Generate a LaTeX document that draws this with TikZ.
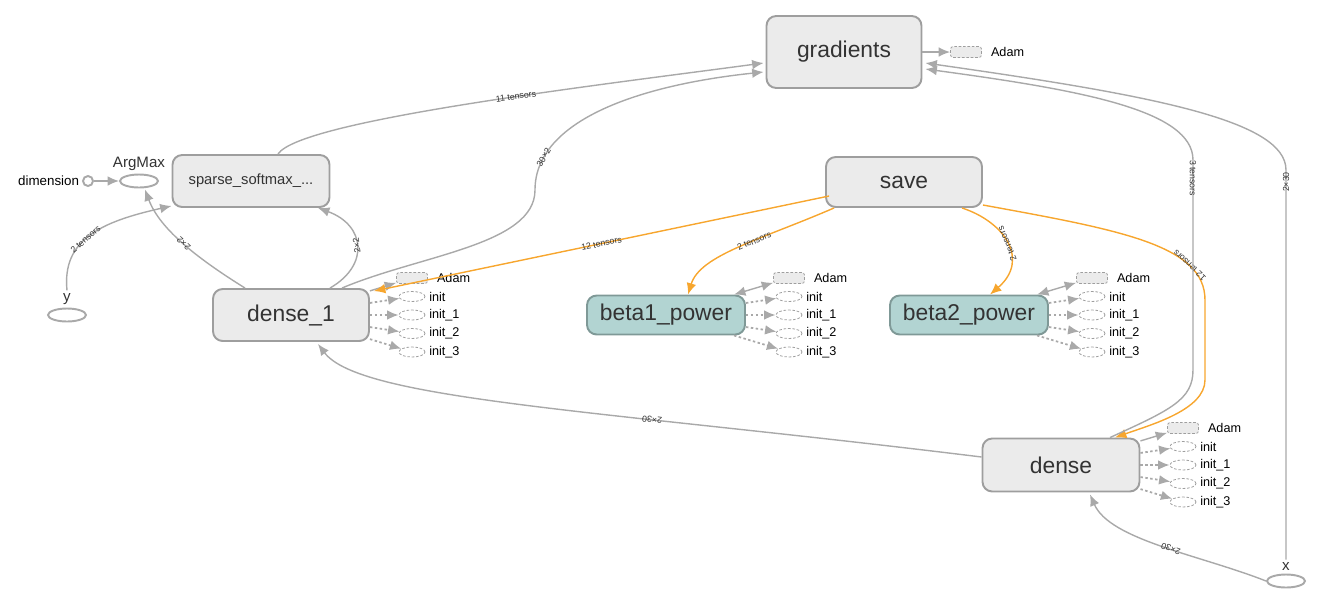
\documentclass[tikz,border=0pt]{standalone}
\usepackage{fontspec}
\setmainfont{Liberation Sans}
\usepackage{tikz}
\usetikzlibrary{
  shapes,
  arrows.meta,
  shapes.geometric,
  calc,
}
\definecolor{opfill}{HTML}{EBEBEB}
\definecolor{opborder}{HTML}{9E9E9E}
\definecolor{varfill}{HTML}{B2D4D2}
\definecolor{varborder}{HTML}{7F9997}
\definecolor{edgegray}{HTML}{A9A9A9}
\definecolor{saveorange}{HTML}{F7A62E}
\definecolor{txtgray}{HTML}{333333}
\tikzstyle{op} = [
rectangle,
draw=opborder,
line width=1.1pt,
fill=opfill,
rounded corners=5.5pt,
inner sep=0pt,
text=txtgray,
font=\fontsize{13}{15}\selectfont
]
\tikzstyle{varop} = [
op,
fill=varfill,
draw=varborder
]
\tikzstyle{leaf} = [
ellipse,
draw=edgegray,
line width=1.1pt,
minimum width=0.76cm,
minimum height=0.26cm,
inner sep=0pt
]
\tikzstyle{leaflabel} = [
font=\fontsize{8.6}{10}\selectfont,
text=txtgray,
label distance=0pt,
inner sep=1.5pt
]
\tikzstyle{auxadam} = [
rectangle,
draw=opborder,
dash pattern=on 1.5pt off 1pt,
line width=0.45pt,
fill=opfill,
rounded corners=1.5pt,
minimum width=0.62cm,
minimum height=0.22cm,
inner sep=0pt
]
\tikzstyle{auxinit} = [
ellipse,
draw=opborder,
dash pattern=on 1.5pt off 1pt,
line width=0.45pt,
minimum width=0.52cm,
minimum height=0.2cm,
inner sep=0pt
]
\tikzstyle{auxlabel} = [font=\fontsize{7.2}{8}\selectfont, inner sep=0.5pt, xshift=1.5pt]
\tikzstyle{arrow} = [draw=edgegray, line width=0.8pt, ->]
\tikzstyle{orangearrow} = [draw=saveorange, line width=0.8pt, ->]
\tikzstyle{ctrl} = [draw=edgegray, line width=1pt, dash pattern=on 1.4pt off 1.4pt, ->]
\tikzstyle{elabel} = [
font=\fontsize{5}{6}\selectfont,
text=txtgray,
sloped,
allow upside down,
inner sep=0pt
]

\begin{document}
\begin{tikzpicture}[x=0.02cm, y=-0.02cm, >={Latex[length=6.5pt, width=5.5pt]}]
  \useasboundingbox (0,0) rectangle (1320,610);
  % Place nodes
  \node [op, minimum width=3.1cm, minimum height=1.44cm] (gradients) at (844,52) {gradients};
  \node [op, minimum width=3.12cm, minimum height=1.0cm] (save) at (904,182) {save};
  \node [op, minimum width=3.14cm, minimum height=1.04cm, font=\fontsize{8.4}{10}\selectfont] (sparse) at (251,181) {sparse\_softmax\_...};
  \node [op, minimum width=3.12cm, minimum height=1.04cm] (dense1) at (291,315) {dense\_1};
  \node [varop, minimum width=3.16cm, minimum height=0.78cm] (beta1) at (666,315) {beta1\_power};
  \node [varop, minimum width=3.16cm, minimum height=0.78cm] (beta2) at (969,315) {beta2\_power};
  \node [op, minimum width=3.14cm, minimum height=1.06cm] (dense) at (1061,465) {dense};

  \node [leaf, label={[leaflabel]above:ArgMax}] (argmax) at (139,181) {};
  \node [circle, draw=edgegray, line width=1.1pt, minimum size=0.2cm, inner sep=0pt,
         label={[leaflabel, font=\fontsize{7.6}{9}\selectfont, text=black]left:dimension}] (dim) at (88,181) {};
  \node [leaf, label={[leaflabel, name=ylbl]above:y}] (y) at (67,315) {};
  \node [leaf, label={[leaflabel, name=xlbl]above:x}] (x) at (1286,581) {};
  \node [auxadam, label={[auxlabel, xshift=3pt]right:Adam}] (gradients-adam) at (966,52) {};

  % Auxiliary nodes
  \foreach \grp/\ax/\ay in {dense1/412/278, beta1/789/278, beta2/1092/278, dense/1183/428} {
    \node [auxadam, label={[auxlabel, xshift=3pt]right:Adam}] (\grp-adam) at (\ax,\ay) {};
    \foreach \i/\nm in {1/init, 2/init\_1, 3/init\_2, 4/init\_3} {
      \node [auxinit, label={[auxlabel]right:\nm}] (\grp-init\i) at (\ax,{\ay+18.5*\i}) {};
      \path [ctrl] (\grp) -- (\grp-init\i);
    }
  }
  \path [arrow] (dense1) -- (dense1-adam);
  \path [arrow] (dense) -- (dense-adam);
  \path [arrow, <->] (beta1) -- (beta1-adam);
  \path [arrow, <->] (beta2) -- (beta2-adam);

  % Draw edges
  \path [arrow] (dim) -- (argmax);
  \path [arrow] (gradients) -- (gradients-adam);
  \path [arrow] ($(sparse.north)+(27,0)$) .. controls (300,120) and (600,85) .. node[elabel, pos=0.58] {11 tensors} ($(gradients.west)+(-2,11)$);
  \path [arrow] ($(dense1.north)+(51,0)$) .. controls (420,255) and (535,245) .. (535,190) .. controls (535,120) and (640,85) .. node[elabel, pos=0.17] {30×2} ($(gradients.west)+(-2,20)$);
  \path [arrow] ($(dense1.north)+(-46,0)$) .. controls (200,260) and (160,230) .. node[elabel, pos=0.5] {2×2} ($(argmax.south)+(6,1)$);
  \path [arrow] ($(dense1.north)+(39,0)$) .. controls (370,265) and (365,225) .. node[elabel, pos=0.5] {2×2} ($(sparse.south)+(67,0)$);
  \path [arrow] (ylbl.north) .. controls (62,240) and (100,222) .. node[elabel, pos=0.45] {2 tensors} ($(sparse.south west)+(0,-2)$);

  \path [orangearrow, <-] ($(dense1.north east)+(4,3)$) -- node[elabel, pos=0.5] {12 tensors} ($(save.west)+(4,14)$);
  \path [orangearrow, <-] ($(beta1.north)+(22,0)$) .. controls (700,255) and (760,240) .. node[elabel, pos=0.6] {2 tensors} ($(save.south west)+(9,0)$);
  \path [orangearrow, <-] ($(beta2.north)+(21,0)$) .. controls (1030,260) and (1005,222) .. node[elabel, pos=0.5] {2 tensors} ($(save.south)+(58,0)$);
  \path [orangearrow, <-] ($(dense.north)+(54,0)$) .. controls (1150,425) and (1205,410) .. (1205,380) -- (1205,300) .. controls (1205,245) and (1120,230) .. node[elabel, pos=0.25] {12 tensors} ($(save.east)+(0,23)$);

  \path [arrow, <-] ($(gradients.east)+(3,17)$) .. controls (1080,90) and (1193,110) .. (1193,160) -- node[elabel, pos=0.086] {3 tensors} (1193,370) .. controls (1193,400) and (1170,410) .. ($(dense.north)+(49,0)$);
  \path [arrow] (xlbl.north) -- node[elabel, pos=0.969] {2×30} (1286,170) .. controls (1286,120) and (1150,95) .. ($(gradients.east)+(3,11)$);
  \path [arrow] ($(dense.west)+(0,-8)$) .. controls (600,410) and (360,400) .. node[elabel, pos=0.33] {2×30} ($(dense1.south)+(27,2)$);
  \path [arrow] (x.west) .. controls (1200,555) and (1110,540) .. node[elabel, pos=0.45] {2×30} ($(dense.south)+(29,2)$);
\end{tikzpicture}
\end{document}
